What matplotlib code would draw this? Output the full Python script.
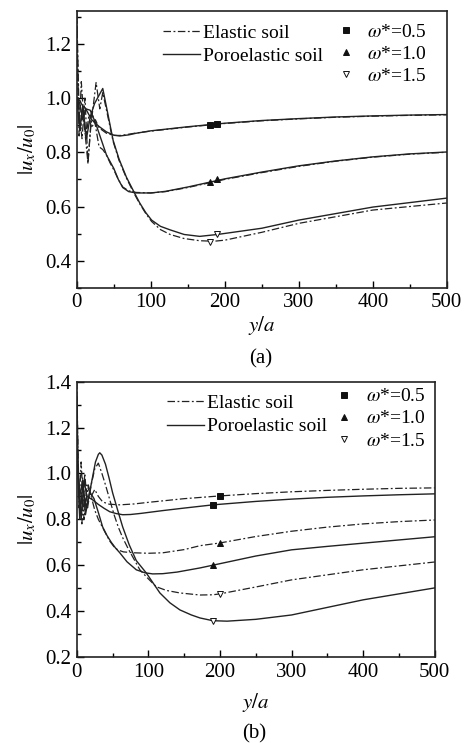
import matplotlib
matplotlib.use("Agg")
import matplotlib.pyplot as plt
from matplotlib.lines import Line2D
from matplotlib.ticker import MultipleLocator, FormatStrFormatter

plt.rcParams['font.family'] = ['Liberation Serif', 'DejaVu Serif']
plt.rcParams['mathtext.fontset'] = 'stix'

# ---- panel (a) data ----
a_x_e05 = [0, 2, 5, 8, 12, 16, 20, 25, 30, 40, 50, 60, 80, 100, 150, 200, 250, 300, 350, 400, 450, 500]
a_y_e05 = [1.32, 1.0, 0.88, 0.97, 0.85, 0.93, 0.89, 0.92, 0.89, 0.87, 0.862, 0.862, 0.871, 0.878, 0.893, 0.906, 0.916, 0.923, 0.929, 0.933, 0.936, 0.938]
a_x_p05 = [0, 4, 8, 12, 16, 20, 30, 40, 50, 58, 70, 80, 100, 150, 200, 250, 300, 350, 400, 450, 500]
a_y_p05 = [1.0, 0.99, 0.97, 0.96, 0.94, 0.92, 0.895, 0.875, 0.863, 0.86, 0.864, 0.87, 0.879, 0.894, 0.907, 0.917, 0.924, 0.93, 0.934, 0.937, 0.939]
a_x_e10 = [0, 3, 6, 10, 15, 20, 25, 30, 35, 40, 45, 50, 56, 62, 70, 80, 100, 120, 150, 200, 250, 300, 350, 400, 450, 500]
a_y_e10 = [1.25, 0.86, 1.06, 0.9, 0.76, 0.95, 0.9, 0.82, 0.81, 0.79, 0.76, 0.735, 0.70, 0.672, 0.658, 0.652, 0.65, 0.655, 0.67, 0.70, 0.725, 0.748, 0.767, 0.782, 0.793, 0.80]
a_x_p10 = [0, 4, 8, 12, 18, 25, 30, 35, 40, 45, 50, 56, 62, 70, 80, 100, 120, 150, 200, 250, 300, 350, 400, 450, 500]
a_y_p10 = [1.0, 0.98, 0.92, 0.96, 0.955, 0.91, 0.87, 0.83, 0.79, 0.765, 0.74, 0.70, 0.67, 0.655, 0.65, 0.65, 0.656, 0.672, 0.702, 0.727, 0.75, 0.768, 0.783, 0.794, 0.801]
a_x_e15 = [0, 3, 7, 11, 15, 19, 26, 31, 35, 42, 49, 57, 67, 76, 85, 93, 101, 113, 126, 145, 166, 185, 200, 250, 300, 400, 500]
a_y_e15 = [1.3, 0.95, 0.85, 1.0, 0.76, 0.9, 1.057, 0.96, 1.02, 0.93, 0.84, 0.77, 0.705, 0.655, 0.61, 0.575, 0.545, 0.515, 0.497, 0.482, 0.474, 0.472, 0.476, 0.505, 0.538, 0.587, 0.613]
a_x_p15 = [0, 4, 8, 13, 18, 24, 28, 35, 42, 49, 57, 67, 76, 85, 93, 101, 113, 126, 145, 166, 190, 250, 300, 400, 500]
a_y_p15 = [1.0, 0.88, 0.97, 0.85, 0.93, 0.98, 1.0, 1.035, 0.94, 0.844, 0.775, 0.708, 0.66, 0.613, 0.578, 0.55, 0.527, 0.514, 0.497, 0.49, 0.497, 0.52, 0.55, 0.598, 0.631]

# marker positions (a)
a_mx_e = [180, 180, 180]
a_my_e = [0.900, 0.690, 0.470]
a_mx_p = [190, 190, 190]
a_my_p = [0.905, 0.700, 0.500]

# ---- panel (b) data ----
b_x_e05 = [0, 2, 5, 8, 12, 16, 20, 25, 30, 36, 45, 60, 80, 100, 150, 200, 250, 300, 350, 400, 450, 500]
b_y_e05 = [1.4, 1.0, 0.82, 0.98, 0.86, 0.95, 0.9, 0.93, 0.9, 0.876, 0.866, 0.863, 0.867, 0.874, 0.89, 0.902, 0.912, 0.92, 0.926, 0.931, 0.935, 0.937]
b_x_p05 = [0, 3, 6, 10, 14, 22, 30, 38, 46, 55, 64, 75, 90, 120, 150, 190, 250, 300, 350, 400, 450, 500]
b_y_p05 = [1.1, 0.95, 0.8, 0.97, 0.9, 0.885, 0.865, 0.848, 0.833, 0.825, 0.82, 0.821, 0.826, 0.838, 0.849, 0.863, 0.878, 0.888, 0.896, 0.902, 0.907, 0.911]
b_x_e10 = [0, 3, 6, 10, 14, 20, 25, 30, 35, 40, 46, 52, 57, 65, 80, 100, 120, 150, 172, 200, 250, 300, 350, 400, 450, 500]
b_y_e10 = [1.3, 0.85, 1.05, 0.8, 0.95, 0.9, 0.84, 0.8, 0.77, 0.74, 0.705, 0.68, 0.667, 0.658, 0.654, 0.652, 0.654, 0.668, 0.685, 0.697, 0.725, 0.748, 0.766, 0.78, 0.79, 0.797]
b_x_p10 = [0, 4, 8, 12, 18, 24, 30, 36, 42, 48, 54, 60, 70, 83, 95, 106, 120, 140, 172, 190, 250, 300, 350, 400, 450, 500]
b_y_p10 = [1.1, 0.9, 0.97, 0.82, 0.92, 0.89, 0.83, 0.767, 0.73, 0.70, 0.675, 0.654, 0.615, 0.58, 0.567, 0.562, 0.563, 0.57, 0.588, 0.60, 0.64, 0.667, 0.682, 0.696, 0.71, 0.724]
b_x_e15 = [0, 3, 7, 11, 15, 20, 25, 30, 35, 40, 46, 52, 58, 64, 72, 80, 88, 100, 111, 125, 144, 172, 190, 200, 250, 300, 400, 500]
b_y_e15 = [1.35, 0.9, 0.78, 1.0, 0.85, 0.95, 1.02, 1.045, 1.0, 0.95, 0.885, 0.82, 0.765, 0.72, 0.67, 0.625, 0.58, 0.54, 0.506, 0.49, 0.479, 0.47, 0.471, 0.475, 0.505, 0.536, 0.58, 0.614]
b_x_p15 = [0, 4, 8, 13, 18, 22, 26, 30, 32, 35, 40, 45, 50, 57, 64, 73, 83, 97, 116, 130, 144, 160, 172, 190, 210, 250, 300, 400, 500]
b_y_p15 = [1.1, 0.8, 0.95, 0.85, 0.92, 0.985, 1.05, 1.083, 1.09, 1.08, 1.04, 0.98, 0.915, 0.84, 0.767, 0.69, 0.62, 0.566, 0.479, 0.436, 0.405, 0.383, 0.37, 0.358, 0.356, 0.364, 0.383, 0.449, 0.501]

b_mx_e = [200, 200, 200]
b_my_e = [0.902, 0.697, 0.475]
b_mx_p = [190, 190, 190]
b_my_p = [0.863, 0.600, 0.355]

omega_labels = [r'$\omega$*=0.5', r'$\omega$*=1.0', r'$\omega$*=1.5']
markers = ['s', '^', 'v']
mfaces = ['#111111', '#111111', 'white']

lc = '#222222'
dashdot = (0, (6, 2, 1.5, 2))
fs = 15
lfs = 14

fig = plt.figure(figsize=(4.63, 7.44), dpi=100)
ax_a = fig.add_axes([0.166, 0.613, 0.799, 0.372])
ax_b = fig.add_axes([0.166, 0.117, 0.773, 0.370])


def draw(ax, curves, mx_e, my_e, mx_p, my_p, xpad):
    for (xe, ye, xp, yp) in curves:
        ax.plot(xe, ye, color=lc, lw=0.9, linestyle=dashdot)
        ax.plot(xp, yp, color=lc, lw=1.0, linestyle='-')
    for i in range(3):
        ax.plot(mx_e[i], my_e[i], marker=markers[i], ms=4.5, mfc=mfaces[i], mec='#111111', mew=0.7, linestyle='none')
        ax.plot(mx_p[i], my_p[i], marker=markers[i], ms=4.5, mfc=mfaces[i], mec='#111111', mew=0.7, linestyle='none')
    ax.set_xlim(0, 500)
    ax.xaxis.set_major_locator(MultipleLocator(100))
    ax.xaxis.set_minor_locator(MultipleLocator(50))
    ax.yaxis.set_major_locator(MultipleLocator(0.2))
    ax.yaxis.set_minor_locator(MultipleLocator(0.1))
    ax.tick_params(which='both', direction='in', top=False, right=False, labelsize=fs, pad=4)
    ax.tick_params(which='major', length=5, width=1)
    ax.tick_params(which='minor', length=3, width=1)
    for s in ax.spines.values():
        s.set_linewidth(1.2)
        s.set_color('#222222')
    ax.yaxis.set_major_formatter(FormatStrFormatter('%.1f'))
    ax.set_xlabel(r'$y/a$', fontsize=fs, labelpad=xpad)
    ax.set_ylabel(r'$|u_x/u_0|$', fontsize=fs, labelpad=5)
    return [Line2D([], [], color=lc, lw=0.9, linestyle=dashdot),
            Line2D([], [], color=lc, lw=1.0, linestyle='-')]


curves_a = [(a_x_e05, a_y_e05, a_x_p05, a_y_p05),
            (a_x_e10, a_y_e10, a_x_p10, a_y_p10),
            (a_x_e15, a_y_e15, a_x_p15, a_y_p15)]
curves_b = [(b_x_e05, b_y_e05, b_x_p05, b_y_p05),
            (b_x_e10, b_y_e10, b_x_p10, b_y_p10),
            (b_x_e15, b_y_e15, b_x_p15, b_y_p15)]

for ax, curves, me, mye, mp, myp, ylim, lpos, mpos, tag, xpad, toff in [
        (ax_a, curves_a, a_mx_e, a_my_e, a_mx_p, a_my_p, (0.3, 1.32), (0.233, 0.953), (0.70, 0.956), '(a)', 1, 0.095),
        (ax_b, curves_b, b_mx_e, b_my_e, b_mx_p, b_my_p, (0.2, 1.4), (0.251, 0.954), (0.72, 0.978), '(b)', 7, 0.104)]:
    lh = draw(ax, curves, me, mye, mp, myp, xpad)
    ax.set_ylim(*ylim)
    leg1 = ax.legend(lh, ['Elastic soil', 'Poroelastic soil'], loc='upper left', bbox_to_anchor=lpos,
                     frameon=False, fontsize=lfs, handlelength=1.9, handletextpad=0.15,
                     labelspacing=0.3, borderpad=0, borderaxespad=0)
    ax.add_artist(leg1)
    mh = [Line2D([], [], marker=markers[i], ms=4.5, mfc=mfaces[i], mec='#111111', mew=0.7, linestyle='none')
          for i in range(3)]
    ax.legend(mh, omega_labels, loc='upper left', bbox_to_anchor=mpos, frameon=False, fontsize=lfs,
              handlelength=1.0, handletextpad=0.6, labelspacing=0.23, borderpad=0, borderaxespad=0)
    pos = ax.get_position()
    fig.text(pos.x0 + pos.width / 2 - 0.003, pos.y0 - toff, tag, ha='center', va='center', fontsize=fs)

fig.savefig('out.png', dpi=100)
